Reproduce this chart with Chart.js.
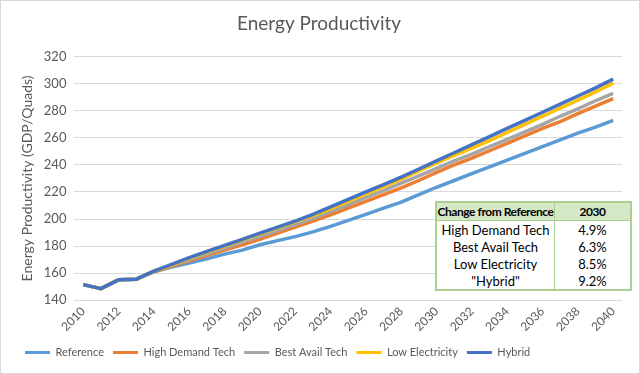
<!DOCTYPE html>
<html>
<head>
<meta charset="utf-8">
<script src="https://cdn.jsdelivr.net/npm/chart.js@4"></script>
<style>
  body { margin: 0; background: #fff; }
  #wrap { position: relative; width: 640px; height: 374px; }
  #frame { position: absolute; left: 0; top: 0; width: 640px; height: 374px; box-sizing: border-box; border: 1px solid #d9d9d9; pointer-events: none; }
  #tbl { position: absolute; left: 435px; top: 201px; width: 194px; border-collapse: collapse; font-family: Lato, "Noto Sans", sans-serif; font-size: 13px; color: #000; background: #fff; border: 2px solid #a9d08e; table-layout: fixed; }
  #tbl td, #tbl th { padding: 0; height: 17px; text-align: center; white-space: nowrap; }
  #tbl th { background: #d5e8c8; font-weight: bold; border-bottom: 1px solid #a9d08e; font-size: 12px; letter-spacing: -0.45px; }
  #tbl .c1 { width: 117px; border-right: 1px solid #a9d08e; }
  #tbl .c2 { width: 75px; }
</style>
</head>
<body>
<div id="wrap">
  <canvas id="chart" width="640" height="374"></canvas>
  <table id="tbl"></table>
  <div id="frame"></div>
</div>
<script>
// data
const years = [];
for (let y = 2010; y <= 2040; y++) years.push(String(y));

const seriesNames = ['Reference', 'High Demand Tech', 'Best Avail Tech', 'Low Electricity', 'Hybrid'];
const seriesColors = ['#5b9bd5', '#ed7d31', '#a5a5a5', '#ffc000', '#4472c4'];

const reference = [151.5, 148.5, 155, 155.5, 161, 164.5, 167.5, 170.5, 174, 177, 181, 184, 187, 190.5, 194.5, 199, 203.5, 208, 212.5, 218, 223.5, 228.5, 233.5, 238.5, 243.5, 248.5, 253.5, 258.5, 263.5, 268, 273];
const highDemand = [151.5, 148.5, 155, 155.5, 161, 165, 169, 173, 177, 181, 185, 189.5, 194, 198.5, 203, 208, 213, 218, 223, 228.5, 234.5, 240, 245, 250.5, 256, 261.5, 267, 272, 278, 283.5, 289];
const bestAvail = [151.5, 148.5, 155, 155.5, 161.5, 165.5, 170, 174, 178.5, 183, 187, 191.5, 196, 200.5, 205.5, 210.5, 216, 221, 226.5, 232, 237.5, 243, 248, 253.5, 259, 264.5, 270, 276, 281.5, 287.5, 293];
const lowElec = [151.5, 148.5, 155, 155.5, 161.5, 166, 171, 175.5, 180, 184.5, 189, 193.5, 198, 202.5, 207.5, 213, 218.5, 224, 229.5, 235.5, 241.5, 247, 252.5, 258, 264, 270, 276, 282, 288, 294, 300.5];
const hybrid = [151.5, 148.5, 155, 155.5, 161.5, 166.5, 171.5, 176, 180.5, 185, 189.5, 194, 198.5, 203.5, 209, 214.5, 220, 225.5, 231, 237, 243, 249, 255, 261, 267, 273, 279, 285, 291, 297, 303.5];

const tableHeader = ['Change from Reference', '2030'];
const tableRows = ['High Demand Tech', 'Best Avail Tech', 'Low Electricity', '"Hybrid"'];
const tableValues = ['4.9%', '6.3%', '8.5%', '9.2%'];

const fontFamily = 'Lato, "Noto Sans", sans-serif';
const grey = '#595959';

// table overlay
const tbl = document.getElementById('tbl');
let html = '<tr><th class="c1">' + tableHeader[0] + '</th><th class="c2">' + tableHeader[1] + '</th></tr>';
tableRows.forEach((name, i) => {
    html += '<tr><td class="c1">' + name + '</td><td class="c2">' + tableValues[i] + '</td></tr>';
});
tbl.innerHTML = html;

const allValues = [reference, highDemand, bestAvail, lowElec, hybrid];

new Chart(document.getElementById('chart').getContext('2d'), {
    type: 'line',
    data: {
        labels: years,
        datasets: allValues.map((vals, i) => ({
            label: seriesNames[i],
            data: vals,
            borderColor: seriesColors[i],
            backgroundColor: seriesColors[i],
            borderWidth: 3.5,
            pointRadius: 0,
            tension: 0,
            order: 4 - i
        }))
    },
    options: {
        responsive: false,
        animation: false,
        layout: { padding: { left: 16, right: 18, top: 4, bottom: 6 } },
        plugins: {
            title: {
                display: true,
                text: 'Energy Productivity',
                color: grey,
                font: { family: fontFamily, size: 19, weight: 'normal' },
                padding: { top: 8, bottom: 22 }
            },
            legend: {
                position: 'bottom',
                align: 'start',
                labels: {
                    color: grey,
                    font: { family: fontFamily, size: 11 },
                    boxWidth: 25,
                    boxHeight: 3,
                    padding: 9,
                    sort: (a, b) => a.datasetIndex - b.datasetIndex,
                    generateLabels: chart => chart.data.datasets.map((ds, i) => ({
                        text: ds.label,
                        fillStyle: ds.borderColor,
                        strokeStyle: ds.borderColor,
                        lineWidth: 0,
                        fontColor: grey,
                        datasetIndex: i
                    }))
                }
            },
            tooltip: { enabled: false }
        },
        scales: {
            x: {
                offset: true,
                grid: { display: false, drawTicks: false },
                border: { display: false },
                ticks: {
                    color: grey,
                    font: { family: fontFamily, size: 12 },
                    autoSkip: false,
                    maxRotation: 45,
                    minRotation: 45,
                    padding: 4,
                    callback: function(v, i) { return i % 2 === 0 ? years[i] : ''; }
                }
            },
            y: {
                min: 140,
                max: 320,
                grid: { color: '#d9d9d9', lineWidth: 1, drawTicks: false },
                border: { display: false },
                ticks: {
                    stepSize: 20,
                    color: grey,
                    font: { family: fontFamily, size: 13 },
                    padding: 8
                },
                title: {
                    display: true,
                    text: 'Energy Productivity (GDP/Quads)',
                    color: grey,
                    font: { family: fontFamily, size: 14 },
                    padding: { top: 3, bottom: 0 }
                }
            }
        }
    }
});
</script>
</body>
</html>
